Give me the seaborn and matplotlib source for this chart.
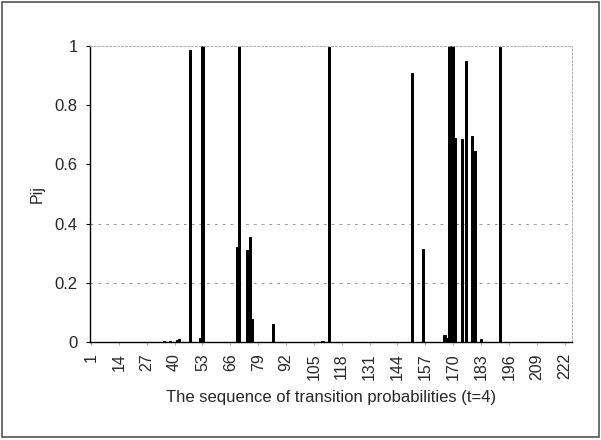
import numpy as np
import pandas as pd
import seaborn as sns
import matplotlib.pyplot as plt
from matplotlib.patches import Rectangle

sns.set_theme(style="white")
plt.rcParams["font.family"] = ["Liberation Sans", "DejaVu Sans"]

n_items = 225
# index of transition -> probability (everything else is ~0)
bar_index = [35, 38, 41, 42, 47, 52, 53, 69, 70, 74, 75, 76, 86, 109, 112,
             151, 156, 166, 167, 168, 169, 170, 171, 174, 176, 179, 180, 183, 192]
bar_value = [0.003, 0.004, 0.006, 0.01, 0.985, 0.015, 1.0, 0.32, 1.0, 0.31, 0.355, 0.078,
             0.06, 0.005, 0.995, 0.91, 0.315, 0.025, 0.015, 1.0, 1.0, 1.0, 0.69,
             0.685, 0.95, 0.695, 0.645, 0.01, 0.995]
tick_labels = [str(i) for i in range(1, 223, 13)]

pij = np.zeros(n_items)
pij[np.array(bar_index) - 1] = bar_value
df = pd.DataFrame({"seq": np.arange(1, n_items + 1), "pij": pij})

fig = plt.figure(figsize=(6.01, 4.40), dpi=100)
ax = fig.add_axes([90 / 601, 1 - 342 / 440, 482 / 601, 296 / 440])

sns.barplot(data=df, x="seq", y="pij", color="black", width=1.0,
            edgecolor="black", linewidth=0.7, saturation=1, ax=ax)

ax.set_ylim(0, 1)
ax.set_xlim(-0.5, n_items - 0.5)
ax.set_yticks([0, 0.2, 0.4, 0.6, 0.8, 1])
ax.set_yticklabels(["0", "0.2", "0.4", "0.6", "0.8", "1"], fontsize=12)
ax.set_xticks(range(0, 222, 13))
ax.set_xticklabels(tick_labels, rotation=90, fontsize=11.5)
ax.tick_params(axis="y", left=True, length=3, width=0.8, color="black", pad=6)
ax.tick_params(axis="x", bottom=True, length=2, width=0.5, color="#888888", pad=6)

# faint dashed gridlines, as in the scan
for yv in [0.2, 0.4]:
    ax.axhline(yv, color="#999999", lw=0.7, ls=(0, (3, 5)), zorder=0)

for side in ["top", "right"]:
    ax.spines[side].set_color("#aaaaaa")
    ax.spines[side].set_linestyle((0, (2, 2)))
    ax.spines[side].set_linewidth(0.7)
for side in ["left", "bottom"]:
    ax.spines[side].set_color("black")
    ax.spines[side].set_linewidth(1.0)

ax.set_xlabel("The sequence of transition probabilities (t=4)", fontsize=12, labelpad=7)
ax.set_ylabel("Pij", fontsize=11.5, labelpad=7)

fig.patches.append(Rectangle((1.5 / 601, 3 / 440), 597.5 / 601, 435 / 440,
                             transform=fig.transFigure, fill=False,
                             edgecolor="#555555", linewidth=1.2))

fig.savefig("out.png", dpi=100)
